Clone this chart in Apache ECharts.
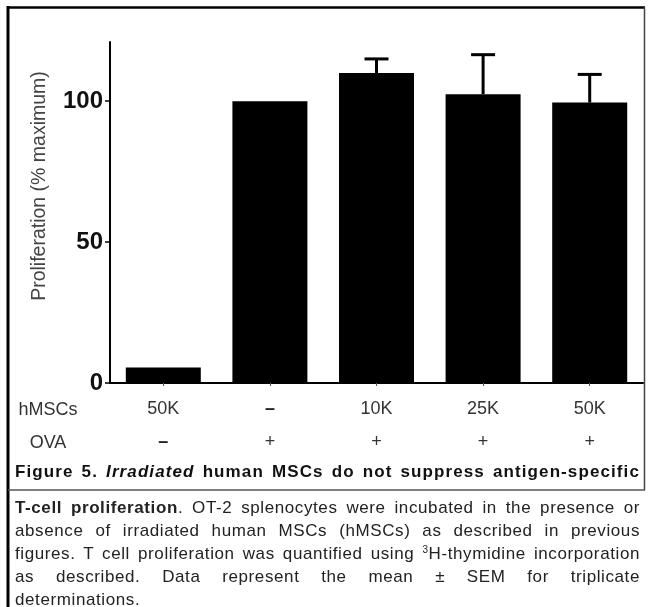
<!DOCTYPE html>
<html>
<head>
<meta charset="utf-8">
<script src="https://cdn.jsdelivr.net/npm/echarts@6/dist/echarts.min.js"></script>
<style>
  html, body { margin: 0; padding: 0; background: #fff; }
  #wrap { position: relative; width: 650px; height: 607px; overflow: hidden; }
  #chart { position: absolute; left: 0; top: 0; width: 650px; height: 607px; }
  .cap { position: absolute; left: 15px; width: 625px; font-family: "Liberation Sans", Arial, sans-serif;
         font-size: 17px; letter-spacing: 0.6px; line-height: 23px; color: #222; }
  .cap div { text-align: justify; text-align-last: justify; white-space: nowrap; }
  .cap div.last { text-align-last: left; }
  .cap sup { font-size: 10px; vertical-align: 6px; line-height: 0; }
</style>
</head>
<body>
<div id="wrap">
  <div id="chart"></div>
  <div class="cap" style="top:460px; font-weight:bold; color:#111; letter-spacing:1.1px;">
    <div>Figure 5. <i>Irradiated</i> human MSCs do not suppress antigen-specific</div>
  </div>
  <div class="cap" style="top:496px;">
    <div><b>T-cell proliferation</b>. OT-2 splenocytes were incubated in the presence or</div>
    <div>absence of irradiated human MSCs (hMSCs) as described in previous</div>
    <div>figures. T cell proliferation was quantified using <sup>3</sup>H-thymidine incorporation</div>
    <div>as described. Data represent the mean ± SEM for triplicate</div>
    <div class="last">determinations.</div>
  </div>
</div>
<script>
// data
var hmscs = ['50K', '–', '10K', '25K', '50K'];
var ova = ['–', '+', '+', '+', '+'];
var prolif = [5.5, 100, 110, 102.5, 99.5];
var sem = [0, 0, 5, 14, 10];
var yTicks = [0, 50, 100];

var cats = hmscs.map(function (h, i) { return h + '\n' + ova[i]; });
var font = '"Liberation Sans", Arial, sans-serif';

var chart = echarts.init(document.getElementById('chart'), null, { renderer: 'canvas' });

function styled(s) {
  return s === '–' ? '{d|' + s + '}' : '{t|' + s + '}';
}

var option = {
  animation: false,
  backgroundColor: '#fff',
  grid: { left: 110, right: 7, top: 42, bottom: 224 },
  xAxis: {
    type: 'category',
    data: cats,
    axisLine: { lineStyle: { color: '#000', width: 2 } },
    axisTick: { show: true, alignWithLabel: true, length: 3, lineStyle: { color: '#555', width: 1 } },
    axisLabel: {
      margin: 10,
      interval: 0,
      formatter: function (v, i) { return styled(hmscs[i]) + '\n' + styled(ova[i]); },
      rich: {
        t: { fontFamily: font, fontSize: 18, color: '#333', lineHeight: 33 },
        d: { fontFamily: font, fontSize: 18, fontWeight: 'bold', color: '#222', lineHeight: 33 }
      }
    }
  },
  yAxis: {
    type: 'value',
    min: 0,
    max: 121,
    splitLine: { show: false },
    axisLine: { show: true, lineStyle: { color: '#000', width: 2 } },
    axisTick: { show: true, length: 5, customValues: yTicks, lineStyle: { color: '#000', width: 1.5 } },
    axisLabel: {
      customValues: yTicks,
      margin: 7,
      fontFamily: font,
      fontSize: 24,
      fontWeight: 'bold',
      color: '#111'
    }
  },
  series: [
    {
      type: 'bar',
      data: prolif,
      barWidth: 75,
      itemStyle: { color: '#000' }
    },
    {
      type: 'custom',
      z: 3,
      data: prolif.map(function (v, i) { return [i, v, sem[i]]; }),
      renderItem: function (params, api) {
        var i = api.value(0), v = api.value(1), e = api.value(2);
        if (!e) return null;
        var base = api.coord([i, v]);
        var top = api.coord([i, v + e]);
        var hw = 12;
        var st = { stroke: '#000', lineWidth: 3 };
        return {
          type: 'group',
          children: [
            { type: 'line', shape: { x1: base[0], y1: base[1], x2: top[0], y2: top[1] }, style: st },
            { type: 'line', shape: { x1: top[0] - hw, y1: top[1], x2: top[0] + hw, y2: top[1] }, style: st }
          ]
        };
      }
    }
  ],
  graphic: [
    // frame of the figure panel
    { type: 'line', shape: { x1: 7, y1: 7.5, x2: 645, y2: 7.5 }, style: { stroke: '#000', lineWidth: 2.5 } },
    { type: 'line', shape: { x1: 8, y1: 6, x2: 8, y2: 607 }, style: { stroke: '#000', lineWidth: 3 } },
    { type: 'line', shape: { x1: 644.5, y1: 7, x2: 644.5, y2: 490 }, style: { stroke: '#444', lineWidth: 1.5 } },
    { type: 'line', shape: { x1: 8, y1: 490, x2: 645, y2: 490 }, style: { stroke: '#555', lineWidth: 1.5 } },
    // y axis title
    { type: 'text', x: 40, y: 186, rotation: Math.PI / 2,
      style: { text: 'Proliferation (% maximum)', fontFamily: font, fontSize: 19.5, fill: '#444', align: 'center', verticalAlign: 'middle' } },
    // row headers for the category table
    { type: 'text', x: 48, y: 410, style: { text: 'hMSCs', fontFamily: font, fontSize: 18, fill: '#333', align: 'center', verticalAlign: 'middle' } },
    { type: 'text', x: 48, y: 443, style: { text: 'OVA', fontFamily: font, fontSize: 18, fill: '#333', align: 'center', verticalAlign: 'middle' } }
  ]
};

chart.setOption(option);
</script>
</body>
</html>
